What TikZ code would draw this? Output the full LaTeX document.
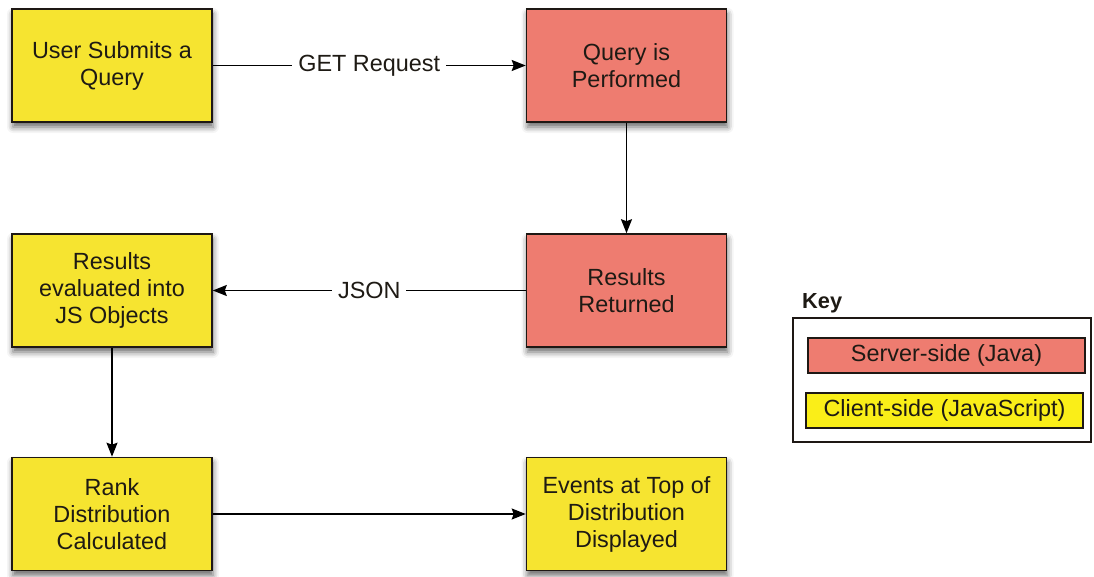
\documentclass[tikz,border=0pt]{standalone}
\usepackage{fontspec}
\setmainfont{Liberation Sans}
\usetikzlibrary{arrows.meta,shadows.blur}

\definecolor{clientfill}{RGB}{246,228,48}
\definecolor{serverfill}{RGB}{238,124,112}
\definecolor{keyyellow}{RGB}{250,238,24}
\definecolor{boxline}{RGB}{30,24,20}
\definecolor{txt}{RGB}{30,26,20}

\tikzset{
  boxfont/.style={font=\fontsize{23.4}{27}\selectfont, text=txt},
  stagebox/.style={boxfont, draw=boxline, line width=1.6pt, align=center,
    minimum width=200pt, minimum height=113pt, inner sep=4pt,
    blur shadow={shadow xshift=1pt, shadow yshift=-5pt,
      shadow blur radius=6pt, shadow opacity=60}},
  client/.style={stagebox, fill=clientfill},
  server/.style={stagebox, fill=serverfill},
  keybox/.style={boxfont, draw=boxline, line width=1.2pt,
    minimum width=277pt, minimum height=35pt, inner sep=0pt},
  flow/.style={line width=1.7pt, draw=black,
    -{Stealth[length=14pt,width=11pt,inset=2pt]}},
  flowlabel/.style={boxfont, fill=white, inner sep=6pt}
}

\begin{document}
\begin{tikzpicture}[x=1pt,y=-1pt]
  \useasboundingbox (0,0) rectangle (1094,577);

  % process stages
  \node[client] (submit)   at (112,65.5)   {User Submits a\\Query};
  \node[server] (perform)  at (626.5,65.5) {Query is\\Performed};
  \node[client] (evaluate) at (112,290.5)  {Results\\evaluated into\\JS Objects};
  \node[server] (returned) at (626.5,290.5){Results\\Returned};
  \node[client] (rank)     at (112,514)    {Rank\\Distribution\\Calculated};
  \node[client] (display)  at (626.5,514)  {Events at Top of\\Distribution\\Displayed};

  % data flow
  \draw[flow] (submit) -- node[flowlabel] {GET Request} (perform);
  \draw[flow] (perform) -- (returned);
  \draw[flow] (returned) -- node[flowlabel] {JSON} (evaluate);
  \draw[flow] (evaluate) -- (rank);
  \draw[flow] (rank) -- (display);

  % legend
  \node[anchor=south west, inner sep=0pt,
        font=\bfseries\fontsize{21.8}{24}\selectfont, text=txt]
        (keytitle) at (802,313) {Key};
  \draw[draw=boxline, line width=1.2pt] (793,318) rectangle (1091,442);
  \node[keybox, fill=serverfill] (keyserver) at (946.5,355.5) {Server-side (Java)};
  \node[keybox, fill=keyyellow]  (keyclient) at (944.5,410.5) {Client-side (JavaScript)};
\end{tikzpicture}
\end{document}
